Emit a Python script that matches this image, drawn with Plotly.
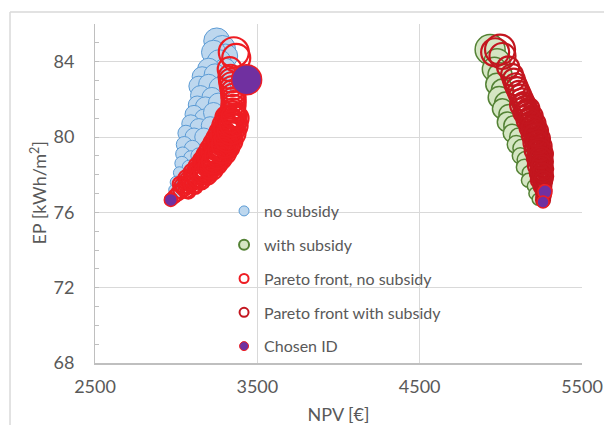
import plotly.graph_objects as go

# ---------------- data ----------------
# no subsidy cloud
npv_no_sub = [3250, 3285, 3305, 3230, 3265, 3300, 3200, 3160, 3240, 3320, 3140, 3200, 3270,
              3150, 3220, 3130, 3180, 3260, 3110, 3170, 3230, 3090, 3140, 3210, 3060, 3110,
              3170, 3050, 3100, 3040, 3090, 3140, 3035, 3080, 3020, 3060, 3000, 3040, 2985,
              3010, 2975]
ep_no_sub = [85.1, 84.7, 84.3, 84.5, 84.0, 83.6, 83.6, 83.2, 83.3, 83.0, 82.7, 82.8, 82.6,
             82.2, 82.1, 81.7, 81.6, 81.8, 81.2, 81.0, 81.3, 80.7, 80.5, 80.6, 80.2, 80.0,
             80.0, 79.6, 79.4, 79.1, 78.9, 79.0, 78.6, 78.4, 78.1, 77.9, 77.6, 77.5, 77.2,
             77.0, 76.8]
size_no_sub = [26, 26, 24, 24, 24, 22, 22, 20, 22, 22, 20, 20, 22,
               20, 20, 18, 20, 20, 18, 18, 20, 18, 18, 18, 16, 18,
               18, 16, 16, 14, 14, 16, 14, 14, 12, 12, 12, 12, 10,
               10, 10]

# with subsidy cloud
npv_sub = [4934, 4977, 4960, 4995, 4975, 5010, 4990, 5030, 5010, 5050, 5040, 5080, 5070,
           5110, 5095, 5130, 5120, 5150, 5145, 5175, 5170, 5200, 5210, 5230]
ep_sub = [84.64, 84.0, 83.6, 83.3, 82.8, 82.5, 82.1, 81.8, 81.5, 81.2, 80.8, 80.6, 80.2,
          80.0, 79.6, 79.4, 79.0, 78.8, 78.4, 78.1, 77.7, 77.4, 77.0, 76.7]
size_sub = [30, 26, 24, 24, 22, 22, 22, 22, 20, 20, 20, 20, 18,
            18, 18, 18, 16, 16, 16, 14, 14, 12, 12, 12]

# Pareto front, no subsidy
npv_pf_no = [2970, 2990, 3010, 3030, 3050, 3070, 3090, 3110, 3130, 3150, 3165, 3180, 3195,
             3208, 3220, 3232, 3244, 3256, 3268, 3278, 3288, 3298, 3306, 3316, 3325, 3332,
             3338, 3343, 3347, 3350, 3352, 3354, 3354, 3352, 3350, 3346, 3342, 3338, 3335,
             3025, 3065, 3105, 3140, 3170, 3195, 3219, 3243, 3263, 3281, 3300, 3318,
             3075, 3115, 3155, 3190, 3220, 3245, 3269, 3293, 3313, 3331, 3350, 3363, 3372,
             3038, 3078, 3118, 3153, 3184, 3210, 3234, 3256, 3276, 3294, 3313, 3326,
             3062, 3102, 3142, 3177, 3207, 3232, 3256, 3280, 3300, 3318, 3336, 3348, 3357,
             3330, 3370, 3355]
ep_pf_no = [76.7, 76.85, 77.0, 77.15, 77.3, 77.45, 77.6, 77.75, 77.9, 78.05, 78.2, 78.35, 78.5,
            78.65, 78.8, 78.95, 79.1, 79.25, 79.4, 79.55, 79.7, 79.85, 80.0, 80.2, 80.4, 80.6,
            80.8, 81.0, 81.2, 81.4, 81.6, 81.8, 82.0, 82.2, 82.4, 82.6, 82.8, 83.0, 83.2,
            77.5, 77.8, 78.1, 78.4, 78.7, 79.0, 79.3, 79.6, 79.9, 80.2, 80.6, 81.0,
            77.1, 77.4, 77.7, 78.0, 78.3, 78.6, 78.9, 79.2, 79.5, 79.8, 80.2, 80.6, 81.0,
            77.4, 77.7, 78.0, 78.3, 78.6, 78.9, 79.2, 79.5, 79.8, 80.1, 80.5, 80.9,
            77.2, 77.5, 77.8, 78.1, 78.4, 78.7, 79.0, 79.3, 79.6, 79.9, 80.3, 80.7, 81.1,
            83.6, 84.2, 84.5]
size_pf_no = [12, 13, 14, 15, 16, 17, 18, 19, 20, 21, 22, 22, 23,
              24, 24, 25, 25, 26, 26, 26, 26, 26, 26, 26, 26, 26,
              26, 26, 26, 24, 24, 24, 24, 24, 24, 24, 24, 24, 24,
              15, 17, 19, 21, 22, 23, 24, 25, 25, 25, 25, 25,
              14, 16, 18, 20, 22, 23, 24, 25, 25, 25, 25, 25, 24,
              16, 18, 20, 22, 23, 24, 25, 26, 26, 26, 26, 26,
              16, 18, 20, 22, 23, 24, 25, 26, 26, 26, 26, 26, 25,
              24, 28, 30]

# Pareto front, with subsidy
npv_pf_sub = [4995, 4965, 5010, 5045, 5069, 5080, 5090, 5100, 5110, 5120, 5130, 5140, 5150,
              5160, 5170, 5180, 5190, 5198, 5206, 5213, 5220, 5225, 5230, 5235, 5239, 5243,
              5246, 5249, 5252, 5255, 5257, 5259, 5261, 5262, 5263, 5264, 5262, 5260,
              5125, 5145, 5165, 5183, 5197, 5207, 5215, 5222, 5228, 5233, 5237,
              5170, 5190, 5208, 5223, 5235, 5245, 5253, 5259, 5264, 5267,
              5143, 5163, 5182, 5200, 5214, 5224, 5232, 5238, 5243, 5247, 5250, 5252,
              5158, 5178, 5196, 5214, 5227, 5238, 5246, 5252, 5258, 5262]
ep_pf_sub = [84.64, 84.5, 84.3, 83.7, 83.3, 83.05, 82.8, 82.6, 82.4, 82.2, 82.0, 81.8, 81.6,
             81.4, 81.2, 81.0, 80.8, 80.6, 80.4, 80.2, 80.0, 79.8, 79.6, 79.4, 79.2, 79.0,
             78.8, 78.6, 78.4, 78.2, 78.0, 77.8, 77.6, 77.4, 77.2, 77.0, 76.8, 76.66,
             81.7, 81.3, 80.9, 80.5, 80.1, 79.7, 79.3, 78.9, 78.5, 78.1, 77.7,
             81.5, 81.1, 80.7, 80.3, 79.9, 79.5, 79.1, 78.7, 78.3, 77.9,
             81.75, 81.35, 80.95, 80.55, 80.15, 79.75, 79.35, 78.95, 78.55, 78.15, 77.75, 77.35,
             81.3, 80.9, 80.5, 80.1, 79.7, 79.3, 78.9, 78.5, 78.1, 77.7]
size_pf_sub = [30, 28, 26, 22, 22, 22, 22, 22, 22, 22, 22, 22, 22,
               22, 22, 22, 22, 22, 22, 22, 22, 22, 22, 22, 22, 22,
               21, 20, 20, 19, 18, 18, 17, 16, 16, 15, 14, 14,
               22, 22, 22, 22, 22, 22, 22, 20, 20, 18, 17,
               22, 22, 22, 22, 22, 22, 22, 20, 19, 18,
               22, 22, 22, 22, 22, 22, 22, 21, 20, 19, 18, 16,
               22, 22, 22, 22, 22, 22, 21, 20, 19, 18]

# Chosen ID
npv_chosen = [3434, 2967, 5272, 5260]
ep_chosen = [83.04, 76.66, 77.09, 76.55]
size_chosen = [30, 13, 14, 12]

legend_names = ["no subsidy", "with subsidy", "Pareto front, no subsidy",
                "Pareto front with subsidy", "Chosen ID"]

# ---------------- styles ----------------
BLUE_FILL, BLUE_EDGE = "#BDD7EE", "#5B9BD5"
GREEN_FILL, GREEN_EDGE = "#D5E6C3", "#548235"
RED1 = "#EE1D23"
RED2 = "#C3161F"
PURPLE = "#7030A0"
TXT = "#595959"
FONT = "Lato"

fig = go.Figure()

fig.add_trace(go.Scatter(x=npv_no_sub, y=ep_no_sub, mode="markers", showlegend=False,
                         marker=dict(size=size_no_sub, color=BLUE_FILL, opacity=1,
                                     line=dict(color=BLUE_EDGE, width=1))))
fig.add_trace(go.Scatter(x=npv_sub, y=ep_sub, mode="markers", showlegend=False,
                         marker=dict(size=size_sub, color=GREEN_FILL, opacity=1,
                                     line=dict(color=GREEN_EDGE, width=1.5))))
fig.add_trace(go.Scatter(x=npv_pf_no, y=ep_pf_no, mode="markers", showlegend=False,
                         marker=dict(size=size_pf_no, color="rgba(0,0,0,0)", opacity=1,
                                     line=dict(color=RED1, width=2.2))))
fig.add_trace(go.Scatter(x=npv_pf_sub, y=ep_pf_sub, mode="markers", showlegend=False,
                         marker=dict(size=size_pf_sub, color="rgba(0,0,0,0)", opacity=1,
                                     line=dict(color=RED2, width=2.2))))
fig.add_trace(go.Scatter(x=npv_chosen, y=ep_chosen, mode="markers", showlegend=False,
                         marker=dict(size=size_chosen, color=PURPLE, opacity=1,
                                     line=dict(color=RED1, width=1.5))))

# legend-only entries
leg_markers = [
    dict(size=10, color=BLUE_FILL, opacity=1, line=dict(color=BLUE_EDGE, width=1)),
    dict(size=10, color=GREEN_FILL, opacity=1, line=dict(color=GREEN_EDGE, width=2)),
    dict(size=9, color="white", opacity=1, line=dict(color=RED1, width=2)),
    dict(size=9, color="white", opacity=1, line=dict(color=RED2, width=2)),
    dict(size=9, color=PURPLE, opacity=1, line=dict(color=RED1, width=1)),
]
for i, (name, mk) in enumerate(zip(legend_names, leg_markers)):
    fig.add_trace(go.Scatter(x=[None], y=[None], mode="markers", name=name,
                             legendgroup=f"g{i}", marker=mk, showlegend=True))

fig.update_layout(
    width=604, height=425,
    margin=dict(l=95, r=22, t=24, b=62, autoexpand=False),
    plot_bgcolor="white", paper_bgcolor="white",
    font=dict(family=FONT, color=TXT, size=16),
    showlegend=True,
    legend=dict(x=0.265, y=0.4985, xanchor="left", yanchor="top",
                bgcolor="rgba(0,0,0,0)", borderwidth=0,
                font=dict(family=FONT, size=16, color=TXT),
                tracegroupgap=10, traceorder="grouped"),
    xaxis=dict(range=[2500, 5500], tick0=2500, dtick=1000, showgrid=True,
               gridcolor="#D9D9D9", gridwidth=1, zeroline=False, automargin=False,
               showline=True, linecolor="#BFBFBF", linewidth=2,
               ticks="", ticklabelstandoff=6,
               tickfont=dict(family=FONT, size=18, color=TXT),
               title=dict(text="NPV [€]", font=dict(family=FONT, size=18, color=TXT),
                          standoff=15)),
    yaxis=dict(range=[68, 86], tick0=68, dtick=4, showgrid=True,
               gridcolor="#D9D9D9", gridwidth=1, zeroline=False, automargin=False,
               showline=True, linecolor="#BFBFBF", linewidth=1,
               ticks="inside", ticklen=4, tickcolor="#BFBFBF",
               minor=dict(dtick=1, ticks="inside", ticklen=4, tickcolor="#BFBFBF",
                          showgrid=False),
               ticklabelstandoff=16,
               tickfont=dict(family=FONT, size=18, color=TXT)),
    annotations=[
        dict(text="EP [kWh/m<sup>2</sup>]", xref="paper", yref="paper",
             x=-0.117, y=0.5, xanchor="center", yanchor="middle", textangle=-90,
             showarrow=False, font=dict(family=FONT, size=18, color=TXT)),
    ],
    shapes=[
        dict(type="line", xref="paper", yref="paper", x0=-0.1745, x1=-0.1745,
             y0=-0.3, y1=1.0354, line=dict(color="#D9D9D9", width=1.5), layer="below"),
        dict(type="line", xref="paper", yref="paper", x0=-0.1745, x1=1.2,
             y0=1.0354, y1=1.0354, line=dict(color="#D9D9D9", width=1.5), layer="below"),
    ],
)

fig.write_html("out.html")
